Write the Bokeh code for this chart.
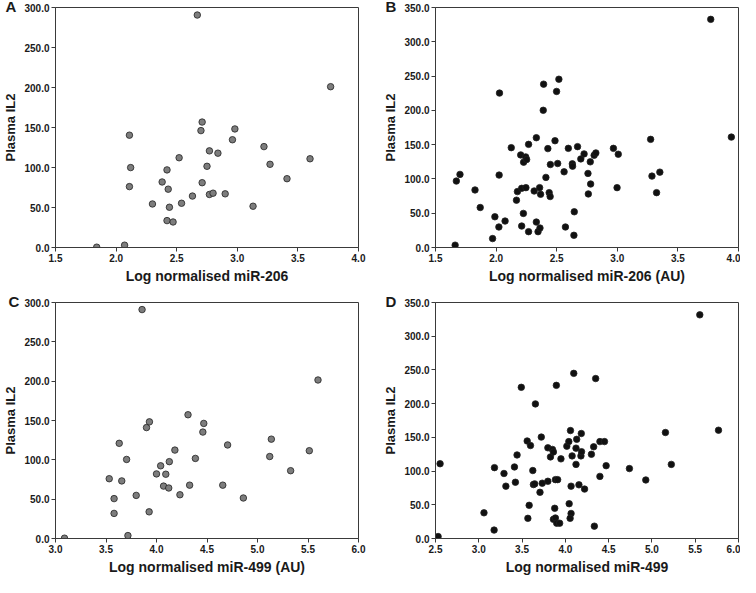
from bokeh.plotting import figure
from bokeh.layouts import column, row
from bokeh.models import FixedTicker, NumeralTickFormatter, Range1d
from bokeh.embed import file_html
from bokeh.resources import INLINE

# Panel A: Log normalised miR-206 vs Plasma IL2
a_x = [1.84, 2.07, 2.67, 3.77, 2.11, 2.12, 2.11, 2.30, 2.38, 2.42, 2.43, 2.44, 2.42, 2.47,
       2.52, 2.54, 2.63, 2.70, 2.71, 2.71, 2.75, 2.77, 2.77, 2.80, 2.84, 2.90, 2.96, 2.98,
       3.13, 3.22, 3.27, 3.41, 3.60]
a_y = [0.4, 2.9, 290.6, 201.0, 140.4, 99.9, 76.1, 54.4, 81.9, 97.0, 72.9, 50.3, 33.6, 31.9,
       112.2, 55.3, 64.3, 146.1, 156.8, 81.0, 101.5, 120.8, 66.3, 67.9, 117.9, 67.1, 134.7, 148.2,
       51.6, 126.1, 104.0, 86.0, 110.9]

# Panel B: Log normalised miR-206 (AU) vs Plasma IL2
b_x = [3.771, 3.941, 1.662, 1.672, 1.702, 1.826, 1.869, 1.971, 1.990, 2.023, 2.074, 2.028, 2.025,
       2.125, 2.168, 2.176, 2.203, 2.211, 2.211, 2.225, 2.227, 2.244, 2.252, 2.246, 2.268, 2.268,
       2.314, 2.332, 2.332, 2.346, 2.362, 2.359, 2.367, 2.392, 2.389, 2.411, 2.427, 2.438, 2.446,
       2.448, 2.486, 2.499, 2.508, 2.518, 2.561, 2.572, 2.596, 2.642, 2.645, 2.629, 2.631, 2.672,
       2.699, 2.726, 2.758, 2.761, 2.777, 2.780, 2.809, 2.823, 2.968, 3.008, 2.998, 3.275, 3.286,
       3.324, 3.351]
b_y = [332.7, 161.0, 3.4, 96.9, 106.6, 83.9, 58.3, 13.0, 44.8, 29.9, 38.6, 225.2, 105.6,
       145.6, 69.0, 81.5, 135.0, 86.3, 31.3, 49.7, 124.4, 132.1, 128.3, 87.3, 150.4, 23.1,
       82.4, 160.1, 37.1, 23.1, 28.4, 87.3, 77.6, 238.2, 200.1, 102.2, 144.2, 80.0, 74.3,
       121.0, 155.7, 227.6, 122.5, 245.4, 110.4, 29.9, 144.6, 17.8, 52.1, 122.0, 118.6, 147.1,
       129.2, 136.5, 108.0, 78.1, 124.9, 92.6, 134.5, 137.9, 144.6, 136.0, 87.3, 157.7, 104.1,
       80.0, 109.9]

# Panel C: Log normalised miR-499 (AU) vs Plasma IL2
c_x = [3.089, 3.717, 3.857, 5.599, 3.532, 3.580, 3.580, 3.631, 3.656, 3.704, 3.799, 3.901, 3.930,
       3.927, 4.000, 4.041, 4.070, 4.092, 4.121, 4.127, 4.182, 4.232, 4.312, 4.328, 4.385, 4.459,
       4.468, 4.656, 4.704, 4.860, 5.121, 5.137, 5.328, 5.513]
c_y = [0.4, 3.7, 291.0, 201.5, 76.0, 50.7, 31.9, 121.0, 73.2, 100.5, 54.8, 141.0, 148.3,
       33.9, 82.1, 92.4, 66.6, 81.7, 64.2, 97.7, 112.4, 55.6, 157.3, 67.8, 101.8, 135.3,
       146.3, 67.8, 118.9, 51.5, 104.2, 126.3, 86.2, 111.6]

# Panel D: Log normalised miR-499 vs Plasma IL2
d_x = [5.553, 5.769, 2.530, 2.553, 3.060, 3.177, 3.181, 3.291, 3.313, 3.412, 3.423, 3.442, 3.491,
       3.559, 3.567, 3.582, 3.597, 3.624, 3.631, 3.646, 3.654, 3.722, 3.733, 3.707, 3.798, 3.798,
       3.828, 3.851, 3.862, 3.885, 3.911, 3.877, 3.862, 3.885, 3.900, 3.934, 3.896, 3.949, 4.017,
       4.040, 4.044, 4.059, 4.066, 4.055, 4.066, 4.078, 4.097, 4.123, 4.123, 4.131, 4.157, 4.180,
       4.187, 4.184, 4.222, 4.301, 4.327, 4.335, 4.350, 4.399, 4.399, 4.452, 4.471, 4.740, 4.929,
       5.156, 5.224]
d_y = [331.7, 160.6, 2.9, 110.9, 38.1, 12.5, 105.1, 96.4, 77.6, 106.1, 83.4, 123.9, 224.2,
       144.6, 29.9, 49.2, 137.9, 100.8, 80.0, 81.0, 199.6, 150.4, 82.0, 68.5, 84.9, 134.5,
       121.0, 132.1, 128.3, 87.3, 87.3, 44.8, 28.4, 30.4, 22.7, 22.7, 227.1, 118.1, 136.9,
       143.7, 51.6, 160.1, 37.1, 29.9, 77.6, 122.5, 244.9, 109.9, 134.0, 147.1, 79.6, 122.5,
       128.7, 155.7, 73.3, 124.9, 136.0, 18.3, 237.2, 143.7, 92.1, 143.7, 108.0, 103.7, 86.8,
       157.2, 109.9]

x_ticks_206 = [1.5, 2.0, 2.5, 3.0, 3.5, 4.0]
x_ticks_499c = [3.0, 3.5, 4.0, 4.5, 5.0, 5.5, 6.0]
x_ticks_499d = [2.5, 3.0, 3.5, 4.0, 4.5, 5.0, 5.5, 6.0]
y_ticks_300 = [0, 50, 100, 150, 200, 250, 300]
y_ticks_350 = [0, 50, 100, 150, 200, 250, 300, 350]

FONT = "Liberation Sans"
LINE = "#3a3a3a"
TXT = "#1a1a1a"


def panel(xs, ys, xr, yr, xt, yt, xlabel, letter, fill, w, h, bl, br, bt, bb, loff):
    p = figure(width=w, height=h, x_range=Range1d(*xr), y_range=Range1d(*yr),
               output_backend="svg", toolbar_location=None,
               min_border_left=bl, min_border_right=br, min_border_top=bt, min_border_bottom=bb)
    p.grid.visible = False
    p.outline_line_color = LINE
    p.outline_line_width = 1
    p.background_fill_color = "white"
    p.border_fill_color = "white"
    p.scatter(xs, ys, size=6.5, fill_color=fill, line_color="#222222", line_width=0.8)
    for ax, ticks in ((p.xaxis[0], xt), (p.yaxis[0], yt)):
        ax.ticker = FixedTicker(ticks=ticks)
        ax.formatter = NumeralTickFormatter(format="0.0")
        ax.minor_tick_line_color = None
        ax.major_tick_in = 0
        ax.major_tick_out = 4
        ax.major_tick_line_color = LINE
        ax.axis_line_color = LINE
        ax.major_label_text_font = FONT
        ax.major_label_text_font_style = "bold"
        ax.major_label_text_font_size = "10px"
        ax.major_label_text_color = TXT
        ax.major_label_standoff = 2
        ax.axis_label_text_font = FONT
        ax.axis_label_text_font_style = "bold"
        ax.axis_label_text_color = TXT
        ax.axis_label_standoff = 3
    p.xaxis.axis_label = xlabel
    p.xaxis.axis_label_text_font_size = "14px"
    p.yaxis.axis_label = "Plasma IL2"
    p.yaxis.axis_label_text_font_size = "13px"
    # panel letter as the plot title, pulled left of the frame and kept thin
    p.title.text = letter
    p.title.align = "left"
    p.title.vertical_align = "top"
    p.title.offset = loff
    p.title.standoff = -20
    p.title.text_font = FONT
    p.title.text_font_style = "bold"
    p.title.text_font_size = "15px"
    p.title.text_color = TXT
    return p


pA = panel(a_x, a_y, (1.5, 4.0), (0, 300), x_ticks_206, y_ticks_300,
           "Log normalised miR-206", "A", "#7d7d7d", 380, 286, 47, 22, 4, 38, -50)
pB = panel(b_x, b_y, (1.5, 4.0), (0, 350), x_ticks_206, y_ticks_350,
           "Log normalised miR-206 (AU)", "B", "#111111", 360, 286, 50, 2, 7, 37, -50)
pC = panel(c_x, c_y, (3.0, 6.0), (0, 300), x_ticks_499c, y_ticks_300,
           "Log normalised miR-499 (AU)", "C", "#7d7d7d", 380, 291, 44, 22, 15, 38, -47)
pD = panel(d_x, d_y, (2.5, 6.0), (0, 350), x_ticks_499d, y_ticks_350,
           "Log normalised miR-499", "D", "#111111", 360, 291, 51, 2, 16, 38, -50)

layout = column(row(pA, pB), row(pC, pD))

open("out.html", "w").write(file_html(layout, INLINE))
